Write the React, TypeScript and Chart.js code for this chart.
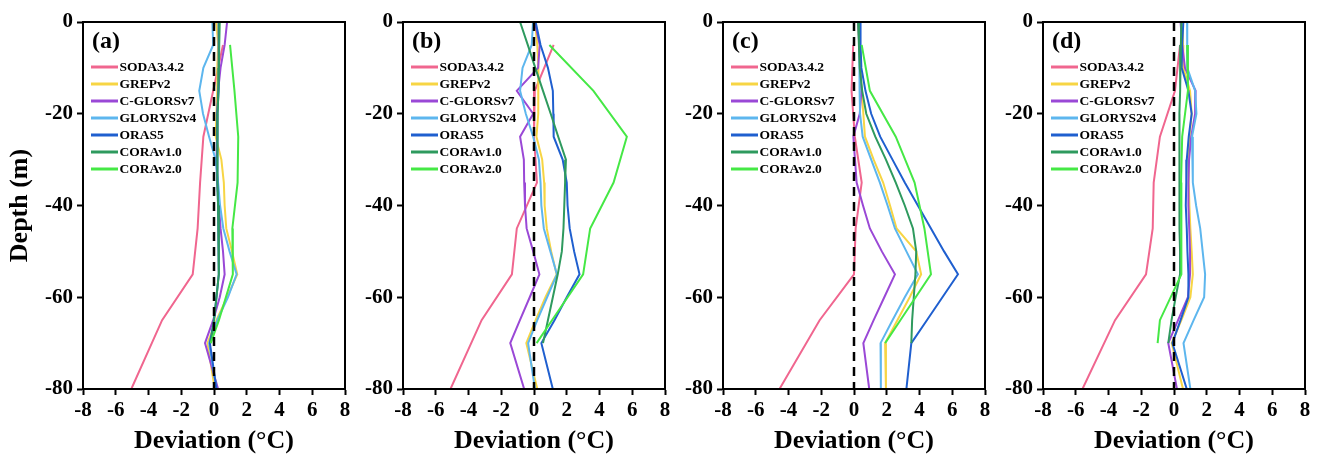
import React, { useEffect, useRef } from "react";
import { Chart, registerables } from "chart.js";

Chart.register(...registerables);

const FONT = '"Liberation Serif", "Times New Roman", serif';

const SERIES_NAMES = ["SODA3.4.2", "GREPv2", "C-GLORSv7", "GLORYS2v4", "ORAS5", "CORAv1.0", "CORAv2.0"];
const SERIES_COLORS = ["#F0668F", "#F7D544", "#9A48D6", "#5DB6EE", "#1F5FCF", "#2E9A5E", "#45E845"];
const PANEL_LABELS = ["(a)", "(b)", "(c)", "(d)"];
const X_TITLE = "Deviation (°C)";
const Y_TITLE = "Depth (m)";
const X_TICKS = [-8, -6, -4, -2, 0, 2, 4, 6, 8];
const Y_TICKS = [0, -20, -40, -60, -80];

// depth levels (m) of each series
const DEPTH_SODA = [5, 15, 25, 35, 45, 55, 65, 80];
const DEPTH_MODEL = [0, 5, 10, 15, 20, 25, 30, 35, 40, 45, 50, 55, 60, 65, 70, 80];
const DEPTH_CORA1 = [0, 5, 10, 15, 20, 25, 30, 35, 40, 45, 50, 55, 60, 65, 70];
const DEPTH_CORA2 = [5, 15, 25, 35, 45, 55, 65, 70];

// panel (a)
const SODA_A = [0.55, -0.05, -0.65, -0.85, -1.0, -1.3, -3.17, -5.05];
const GREP_A = [0.15, 0.25, 0.2, 0.2, 0.15, 0.1, 0.45, 0.6, 0.65, 0.75, 1.1, 1.42, 0.8, 0.15, -0.4, 0.05];
const CGLORS_A = [0.8, 0.65, 0.4, 0.25, 0.2, 0.2, 0.15, 0.2, 0.3, 0.4, 0.55, 0.65, 0.35, -0.05, -0.55, 0.25];
const GLORYS_A = [-0.1, -0.05, -0.65, -0.9, -0.67, -0.3, 0.1, 0.25, 0.37, 0.57, 0.95, 1.38, 0.85, 0.2, -0.3, 0.15];
const ORAS5_A = [0.3, 0.3, 0.3, 0.25, 0.2, 0.2, 0.2, 0.22, 0.25, 0.28, 0.3, 0.3, 0.15, 0.0, -0.25, 0.15];
const CORA1_A = [0.35, 0.32, 0.3, 0.27, 0.22, 0.2, 0.2, 0.22, 0.25, 0.28, 0.3, 0.3, 0.15, 0.0, -0.2];
const CORA2_A = [0.98, 1.25, 1.48, 1.44, 1.12, 1.15, 0.3, -0.2];

// panel (b)
const SODA_B = [1.2, 0.05, 0.0, 0.18, -1.05, -1.35, -3.2, -5.1];
const GREP_B = [0.06, 0.2, 0.27, 0.27, 0.25, 0.15, 0.5, 0.62, 0.65, 0.78, 1.05, 1.38, 0.7, 0.1, -0.47, 0.2];
const CGLORS_B = [0.05, 0.35, 0.25, -1.05, -0.05, -0.85, -0.62, -0.6, -0.55, -0.45, -0.05, 0.33, -0.26, -0.86, -1.45, -0.6];
const GLORYS_B = [-0.06, -0.14, -0.7, -0.85, -0.5, -0.05, 0.3, 0.4, 0.45, 0.6, 1.0, 1.4, 0.8, 0.2, -0.36, 0.06];
const ORAS5_B = [0.1, 0.4, 0.85, 1.15, 1.18, 1.2, 1.75, 2.0, 2.05, 2.18, 2.45, 2.78, 2.0, 1.25, 0.45, 1.15];
const CORA1_B = [-0.85, -0.38, 0.08, 0.55, 1.02, 1.48, 1.95, 1.9, 1.85, 1.8, 1.7, 1.45, 1.15, 0.85, 0.55];
const CORA2_B = [0.94, 3.63, 5.67, 4.86, 3.43, 3.0, 1.1, 0.16];

// panel (c)
const SODA_C = [-0.05, -0.15, 0.05, 0.47, 0.1, 0.0, -2.1, -4.55];
const GREP_C = [0.26, 0.33, 0.4, 0.47, 0.57, 0.67, 1.2, 1.78, 2.2, 2.6, 3.8, 4.1, 3.4, 2.65, 1.9, 1.95];
const CGLORS_C = [0.26, 0.32, 0.37, 0.45, 0.35, -0.04, 0.06, 0.16, 0.55, 0.97, 1.7, 2.5, 1.85, 1.2, 0.57, 0.93];
const GLORYS_C = [0.32, 0.33, 0.34, 0.35, 0.37, 0.53, 1.05, 1.58, 2.05, 2.5, 3.2, 3.9, 3.1, 2.35, 1.62, 1.64];
const ORAS5_C = [0.4, 0.4, 0.45, 0.7, 1.05, 1.6, 2.35, 3.1, 3.9, 4.7, 5.5, 6.35, 5.4, 4.45, 3.5, 3.2];
const CORA1_C = [0.25, 0.3, 0.35, 0.5, 0.75, 1.3, 1.95, 2.55, 3.1, 3.6, 3.8, 3.75, 3.65, 3.55, 3.5];
const CORA2_C = [0.47, 0.97, 2.55, 3.7, 4.3, 4.7, 2.83, 1.9];

// panel (d)
const SODA_D = [0.37, 0.06, -0.86, -1.24, -1.3, -1.71, -3.6, -5.59];
const GREP_D = [0.53, 0.55, 0.57, 0.98, 1.08, 0.95, 0.88, 0.9, 0.94, 1.0, 1.08, 1.15, 1.0, 0.45, -0.14, 0.55];
const CGLORS_D = [0.4, 0.5, 0.67, 1.32, 1.29, 1.05, 0.92, 0.88, 0.88, 0.93, 0.98, 0.98, 0.85, 0.25, -0.35, 0.18];
const GLORYS_D = [0.8, 0.8, 0.82, 1.29, 1.37, 1.1, 1.15, 1.15, 1.35, 1.6, 1.75, 1.9, 1.84, 1.2, 0.58, 1.0];
const ORAS5_D = [0.57, 0.5, 0.47, 0.88, 1.08, 0.9, 0.78, 0.75, 0.72, 0.78, 0.82, 0.88, 0.88, 0.4, -0.1, 0.78];
const CORA1_D = [0.45, 0.42, 0.38, 0.37, 0.33, 0.32, 0.31, 0.33, 0.35, 0.36, 0.37, 0.37, 0.1, -0.15, -0.35];
const CORA2_D = [0.8, 0.85, 0.5, 0.43, 0.43, 0.47, -0.86, -1.0];

const SERIES_DEPTHS = [DEPTH_SODA, DEPTH_MODEL, DEPTH_MODEL, DEPTH_MODEL, DEPTH_MODEL, DEPTH_CORA1, DEPTH_CORA2];
const PANEL_SERIES = [
  [SODA_A, GREP_A, CGLORS_A, GLORYS_A, ORAS5_A, CORA1_A, CORA2_A],
  [SODA_B, GREP_B, CGLORS_B, GLORYS_B, ORAS5_B, CORA1_B, CORA2_B],
  [SODA_C, GREP_C, CGLORS_C, GLORYS_C, ORAS5_C, CORA1_C, CORA2_C],
  [SODA_D, GREP_D, CGLORS_D, GLORYS_D, ORAS5_D, CORA1_D, CORA2_D],
];

const CANVAS_W = 360;
const CANVAS_H = 461;
const PANEL_STEP = 320;

function Panel({ index }: { index: number }) {
  const ref = useRef<HTMLCanvasElement | null>(null);

  useEffect(() => {
    if (!ref.current) return;
    const series = PANEL_SERIES[index];
    const datasets: any[] = series.map((vals, i) => ({
      label: SERIES_NAMES[i],
      data: vals.map((v, j) => ({ x: v, y: -SERIES_DEPTHS[i][j] })),
      showLine: true,
      borderColor: SERIES_COLORS[i],
      backgroundColor: SERIES_COLORS[i],
      borderWidth: 2,
      pointRadius: 0,
      pointHoverRadius: 0,
      tension: 0,
      order: 20 - i,
    }));
    datasets.push({
      label: "zero",
      data: [
        { x: 0, y: Y_TICKS[0] },
        { x: 0, y: Y_TICKS[Y_TICKS.length - 1] },
      ],
      showLine: true,
      borderColor: "#000",
      borderWidth: 2.5,
      borderDash: [9, 6],
      pointRadius: 0,
      order: 0,
    });

    const decor = {
      id: "decor" + index,
      afterDraw(chart: any) {
        const { ctx, chartArea } = chart;
        const { left, top, right, bottom } = chartArea;
        ctx.save();
        ctx.strokeStyle = "#000";
        ctx.lineWidth = 2;
        ctx.strokeRect(left, top, right - left, bottom - top);
        // panel label
        ctx.fillStyle = "#000";
        ctx.textBaseline = "middle";
        ctx.textAlign = "left";
        ctx.font = `bold 24px ${FONT}`;
        ctx.fillText(PANEL_LABELS[index], left + 9, top + 20);
        // legend
        ctx.font = `bold 13.5px ${FONT}`;
        SERIES_NAMES.forEach((name, i) => {
          const y = top + 45 + 17 * i;
          ctx.strokeStyle = SERIES_COLORS[i];
          ctx.lineWidth = 3;
          ctx.beginPath();
          ctx.moveTo(left + 8, y);
          ctx.lineTo(left + 35, y);
          ctx.stroke();
          ctx.fillStyle = "#000";
          ctx.fillText(name, left + 36.5, y + 0.5);
        });
        ctx.restore();
      },
    };

    const chart = new Chart(ref.current, {
      type: "scatter",
      data: { datasets },
      options: {
        responsive: false,
        animation: false,
        events: [],
        layout: { padding: { left: 0, right: 15, top: 22, bottom: 0 } },
        plugins: { legend: { display: false }, tooltip: { enabled: false } },
        scales: {
          x: {
            type: "linear",
            position: "bottom",
            min: X_TICKS[0],
            max: X_TICKS[X_TICKS.length - 1],
            afterFit: (s: any) => {
              s.height = 72;
            },
            afterBuildTicks: (s: any) => {
              s.ticks = X_TICKS.map((v) => ({ value: v }));
            },
            ticks: {
              autoSkip: false,
              maxRotation: 0,
              color: "#000",
              padding: 3,
              font: { family: FONT, size: 21, weight: "bold" },
            },
            grid: { drawOnChartArea: false, drawTicks: true, tickLength: 6, tickWidth: 2, tickColor: "#000" },
            border: { display: true, color: "#000", width: 2 },
            title: {
              display: true,
              text: X_TITLE,
              color: "#000",
              font: { family: FONT, size: 26, weight: "bold" },
              padding: { top: 0, bottom: 4 },
            },
          },
          y: {
            type: "linear",
            position: "left",
            min: Y_TICKS[Y_TICKS.length - 1],
            max: Y_TICKS[0],
            afterFit: (s: any) => {
              s.width = 83;
            },
            afterBuildTicks: (s: any) => {
              s.ticks = Y_TICKS.map((v) => ({ value: v }));
            },
            ticks: {
              autoSkip: false,
              color: "#000",
              padding: 4,
              font: { family: FONT, size: 21, weight: "bold" },
            },
            grid: { drawOnChartArea: false, drawTicks: true, tickLength: 6, tickWidth: 2, tickColor: "#000" },
            border: { display: true, color: "#000", width: 2 },
            title: {
              display: index === 0,
              text: Y_TITLE,
              color: "#000",
              font: { family: FONT, size: 26, weight: "bold" },
              padding: { top: 5, bottom: 0 },
            },
          },
        },
      } as any,
      plugins: [decor],
    });
    return () => chart.destroy();
  }, [index]);

  return (
    <canvas
      ref={ref}
      width={CANVAS_W}
      height={CANVAS_H}
      style={{
        position: "absolute",
        left: index * PANEL_STEP,
        top: 0,
        width: CANVAS_W,
        height: CANVAS_H,
      }}
    />
  );
}

export default function App() {
  return (
    <div
      style={{
        position: "fixed",
        left: 0,
        top: 0,
        width: 1320,
        height: 461,
        background: "#fff",
        overflow: "hidden",
      }}
    >
      {PANEL_LABELS.map((_, i) => (
        <Panel key={i} index={i} />
      ))}
    </div>
  );
}
